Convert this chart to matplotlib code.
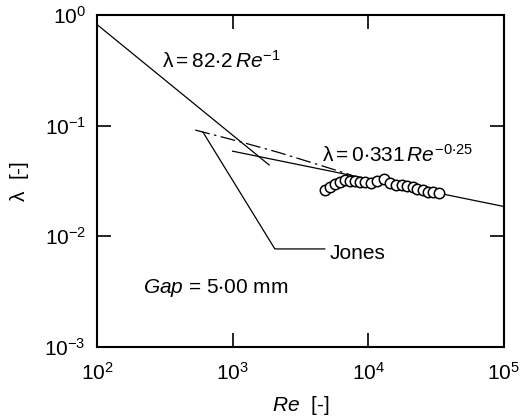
import matplotlib
matplotlib.use("Agg")
import matplotlib.pyplot as plt
from matplotlib.ticker import LogLocator, NullLocator

plt.rcParams['font.family'] = ['Liberation Sans', 'DejaVu Sans']
plt.rcParams['mathtext.fontset'] = 'custom'
plt.rcParams['mathtext.rm'] = 'Liberation Sans'
plt.rcParams['mathtext.it'] = 'Liberation Sans:italic'
plt.rcParams['mathtext.default'] = 'regular'

# Measured friction factor, Gap = 5.00 mm
re_data = [4800, 5200, 5700, 6200, 6700, 7300, 8000, 8700, 9400, 10400, 11600,
           13000, 14400, 16000, 17700, 19200, 21300, 22800, 25200, 27500, 29900, 33100]
lam_data = [0.0262, 0.0277, 0.0297, 0.0310, 0.0320, 0.0316, 0.0316, 0.0310, 0.0310,
            0.0304, 0.0316, 0.0330, 0.0304, 0.0294, 0.0289, 0.0284, 0.0278, 0.0270,
            0.0264, 0.0252, 0.0252, 0.0247]

# Laminar law lambda = 82.2 / Re
re_lam = [100, 1860]
coef_lam = 82.2

# Blasius-type law lambda = 0.331 Re^-0.25
re_turb = [1000, 100000]
coef_turb, exp_turb = 0.331, -0.25

# Jones correlation
re_jones = [530, 1130, 2200, 4400, 7500]
lam_jones = [0.0914, 0.0718, 0.0572, 0.0440, 0.0358]

# Leader line to the "Jones" label
re_lead = [604, 2050, 4786]
lam_lead = [0.0877, 0.00769, 0.00769]

fig = plt.figure(figsize=(5.27, 4.20), dpi=100)
ax = fig.add_axes([0.184, 0.174, 0.772, 0.790])
ax.set_xscale('log')
ax.set_yscale('log')
ax.set_xlim(1e2, 1e5)
ax.set_ylim(1e-3, 1e0)

lw = 0.9
ax.plot(re_lam, [coef_lam / r for r in re_lam], color='black', lw=lw)
ax.plot(re_turb, [coef_turb * r ** exp_turb for r in re_turb], color='black', lw=lw)
ax.plot(re_jones, lam_jones, color='black', lw=lw, dashes=(12, 3.5, 2, 3.5))
ax.plot(re_lead, lam_lead, color='black', lw=lw)
ax.plot(re_data, lam_data, linestyle='none', marker='o', markersize=7.5,
        markerfacecolor='white', markeredgecolor='black', markeredgewidth=1.1)

fs = 15
ax.text(301, 0.332, r'$\lambda = 82{\cdot}2\,\mathit{Re}^{-1}$', fontsize=fs,
        ha='left', va='baseline')
ax.text(4550, 0.047, r'$\lambda = 0{\cdot}331\,\mathit{Re}^{-0{\cdot}25}$', fontsize=fs,
        ha='left', va='baseline')
ax.text(5210, 0.00625, 'Jones', fontsize=fs, ha='left', va='baseline')
ax.text(218, 0.00308, r'$\mathit{Gap}$ = 5$\cdot$00 mm', fontsize=fs,
        ha='left', va='baseline')

ax.set_xlabel(r'$\mathit{Re}$  [-]', fontsize=fs, labelpad=7)
ax.set_ylabel(r'$\lambda$  [-]', fontsize=fs, labelpad=10)

ax.xaxis.set_major_locator(LogLocator(base=10, numticks=10))
ax.yaxis.set_major_locator(LogLocator(base=10, numticks=10))
ax.xaxis.set_minor_locator(NullLocator())
ax.yaxis.set_minor_locator(NullLocator())
ax.tick_params(which='major', direction='in', length=10, width=1.2,
               top=True, right=True, labelsize=fs, pad=8)
ax.tick_params(axis='x', which='major', pad=11)
for s in ax.spines.values():
    s.set_linewidth(1.5)

fig.savefig('out.png', dpi=100)
